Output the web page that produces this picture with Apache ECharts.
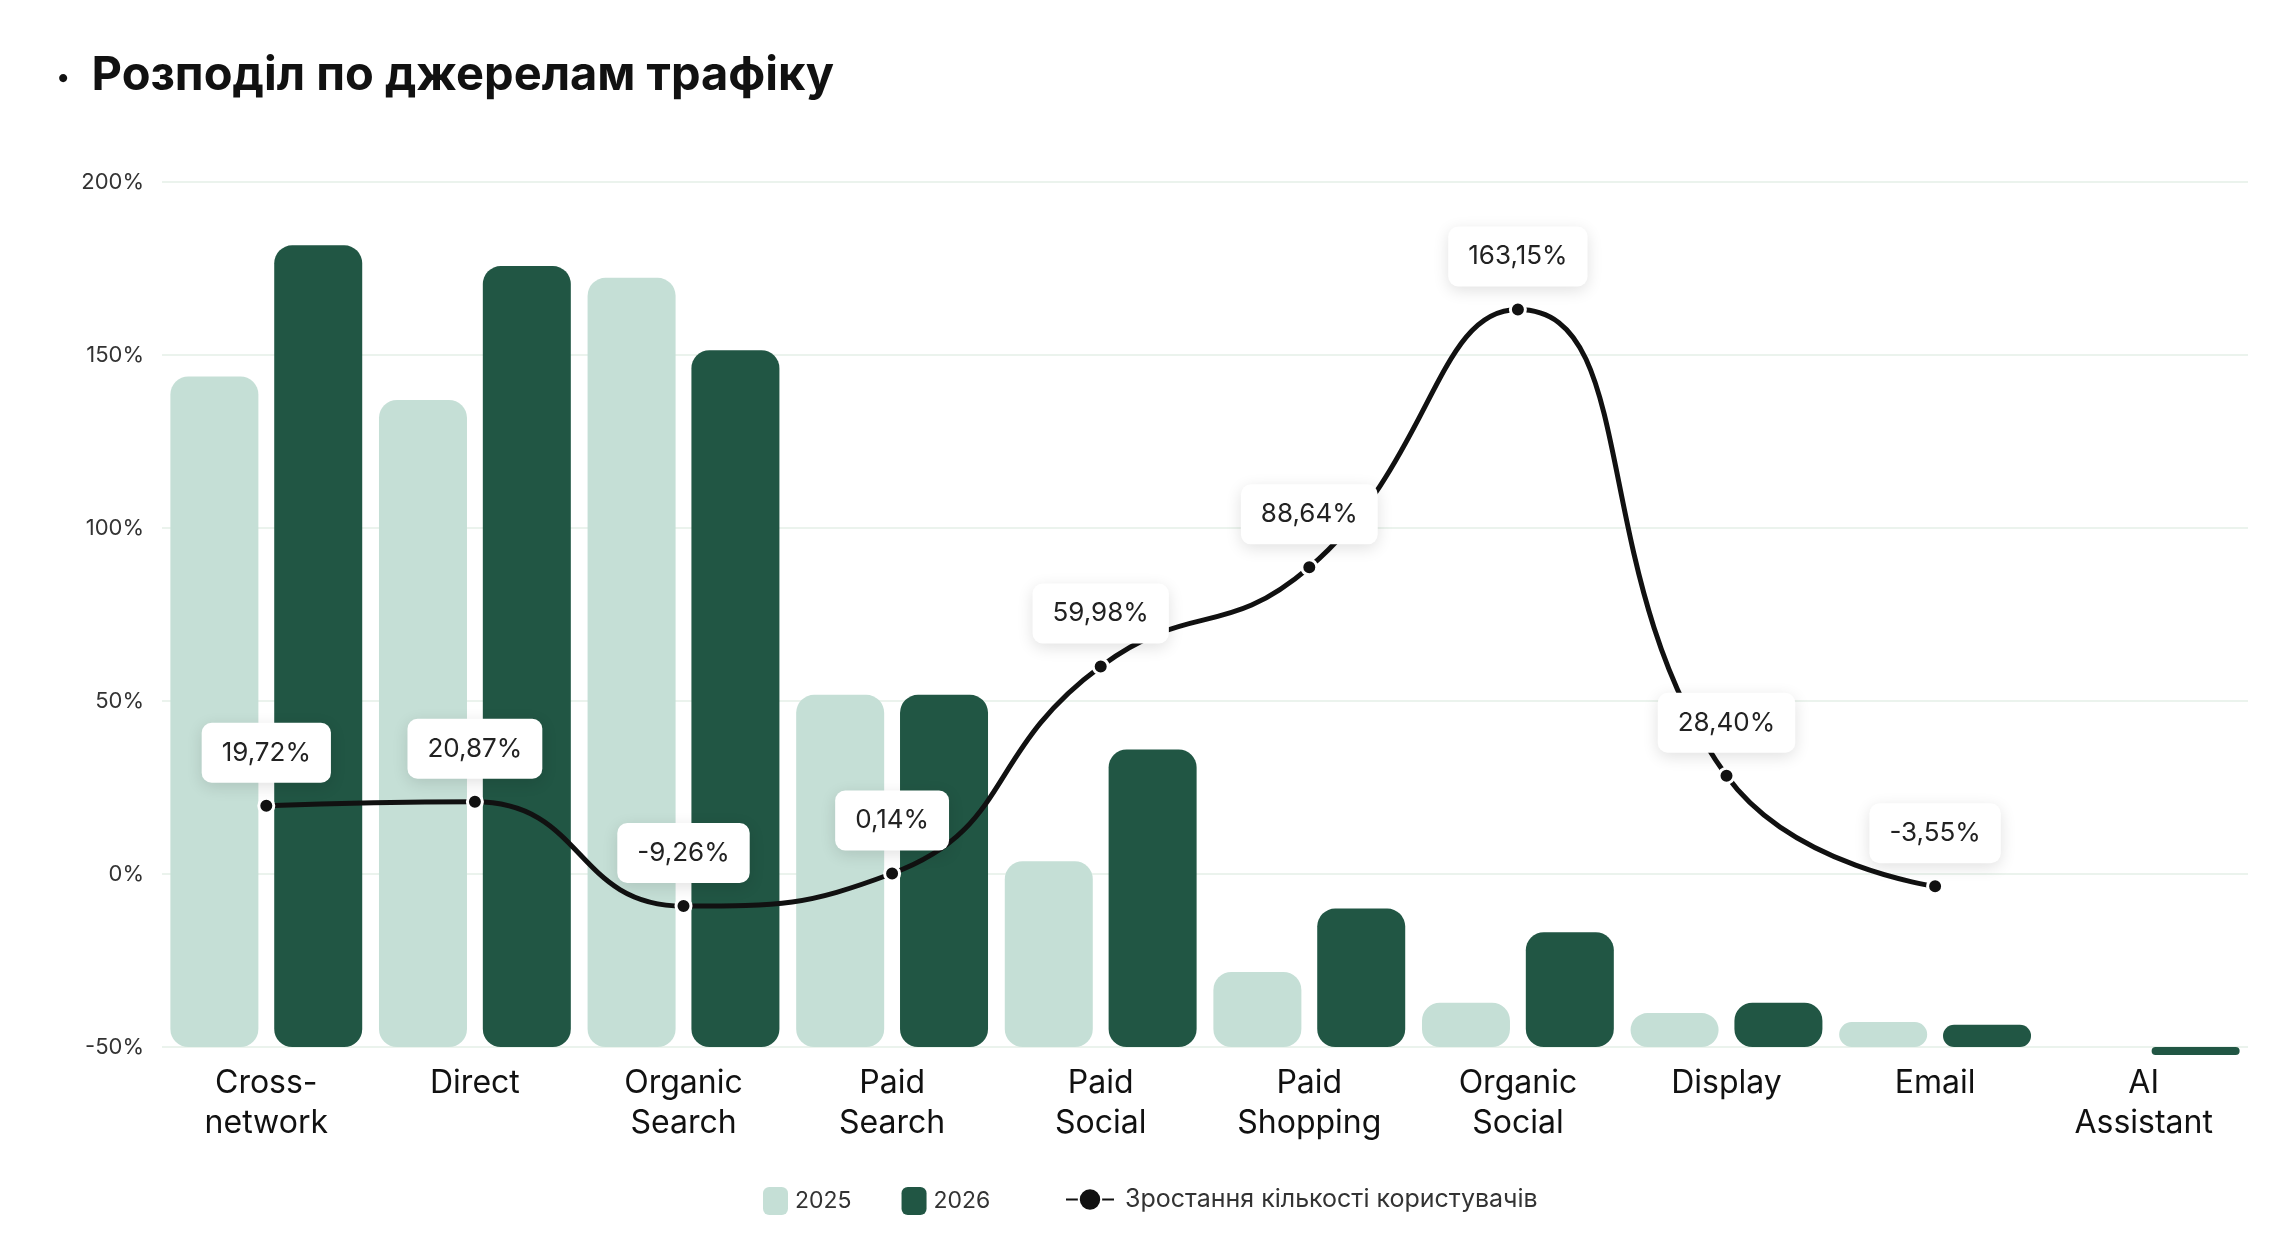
<!DOCTYPE html>
<html>
<head>
<meta charset="utf-8">
<script src="https://cdn.jsdelivr.net/npm/echarts@6/dist/echarts.min.js"></script>
<style>
html,body{margin:0;padding:0;background:#fff;}
#chart{width:2296px;height:1246px;}
</style>
</head>
<body>
<div id="chart"></div>
<script>
var categories = ['Cross-\nnetwork','Direct','Organic\nSearch','Paid\nSearch','Paid\nSocial','Paid\nShopping','Organic\nSocial','Display','Email','AI\nAssistant'];
// bar heights (hidden axis, 0 = bottom of plot)
var users2025 = [193.8, 187.0, 222.3, 101.8, 53.7, 21.7, 12.8, 9.8, 7.2, null];
var users2026 = [231.7, 225.7, 201.4, 101.8, 86.0, 40.0, 33.2, 12.8, 6.4, -2.3];
var growth = [19.72, 20.87, -9.26, 0.14, 59.98, 88.64, 163.15, 28.40, -3.55, null];
var yTicks = [-50, 0, 50, 100, 150, 200];

var FONT = 'Inter';
var chart = echarts.init(document.getElementById('chart'), null, {renderer:'canvas'});

function pct(v){
	return v.toFixed(2).replace('.', ',') + '%';
}

var option = {
	backgroundColor:'#fff',
	textStyle:{fontFamily:FONT},
	title:{
		text:'{d|•}  Розподіл по джерелам трафіку',
		left:52,
		top:47,
		textStyle:{
			fontFamily:FONT,
			fontSize:47,
			fontWeight:'bold',
			color:'#111',
			rich:{
				d:{fontSize:26,color:'#111',verticalAlign:'middle',padding:[6,0,0,0]}
			}
		}
	},
	legend:[
		{
			data:['2025','2026'],
			left:758,
			top:1182,
			itemWidth:25,
			itemHeight:28,
			itemGap:50,
			icon:'roundRect',
			textStyle:{fontFamily:FONT,fontSize:23,color:'#333',padding:[0,0,0,2]}
		},
		{
			data:['Зростання кількості користувачів'],
			left:1060,
			top:1182,
			itemWidth:48,
			itemHeight:28,
			textStyle:{fontFamily:FONT,fontSize:25,color:'#333',padding:[0,0,0,6]}
		}
	],
	grid:{
		left:162,
		right:48,
		top:182,
		bottom:199
	},
	xAxis:{
		type:'category',
		data:categories,
		axisLine:{show:false},
		axisTick:{show:false},
		axisLabel:{
			fontFamily:FONT,
			fontSize:32,
			color:'#111',
			lineHeight:40,
			margin:16,
			interval:0
		}
	},
	yAxis:[
		{
			type:'value',
			min:yTicks[0],
			max:yTicks[yTicks.length-1],
			interval:50,
			axisLine:{show:false},
			axisTick:{show:false},
			axisLabel:{
				fontFamily:FONT,
				fontSize:22,
				color:'#333',
				margin:18,
				formatter:'{value}%'
			},
			splitLine:{lineStyle:{color:'#e4efe7',width:1.5}}
		},
		{
			type:'value',
			min:0,
			max:250,
			show:false,
			splitLine:{show:false}
		}
	],
	series:[
		{
			name:'2025',
			type:'bar',
			yAxisIndex:1,
			data:users2025,
			barWidth:88,
			barGap:'18%',
			clip:false,
			itemStyle:{color:'#c5dfd6',borderRadius:18},
			z:1
		},
		{
			name:'2026',
			type:'bar',
			yAxisIndex:1,
			data:users2026,
			barWidth:88,
			barGap:'18%',
			clip:false,
			itemStyle:{color:'#215644',borderRadius:18},
			z:1
		},
		{
			name:'Зростання кількості користувачів',
			type:'line',
			yAxisIndex:0,
			data:growth,
			smooth:0.5,
			symbol:'circle',
			symbolSize:15,
			showAllSymbol:true,
			lineStyle:{color:'#111',width:5},
			itemStyle:{color:'#111',borderColor:'#fff',borderWidth:3},
			z:5,
			label:{
				show:true,
				position:'top',
				distance:14,
				formatter:function(p){ return pct(p.value); },
				fontFamily:FONT,
				fontSize:26,
				color:'#222',
				backgroundColor:'#fff',
				borderRadius:10,
				padding:[17,20],
				shadowBlur:16,
				shadowColor:'rgba(0,0,0,0.12)',
				shadowOffsetY:4
			}
		}
	]
};

chart.setOption(option);
</script>
</body>
</html>
